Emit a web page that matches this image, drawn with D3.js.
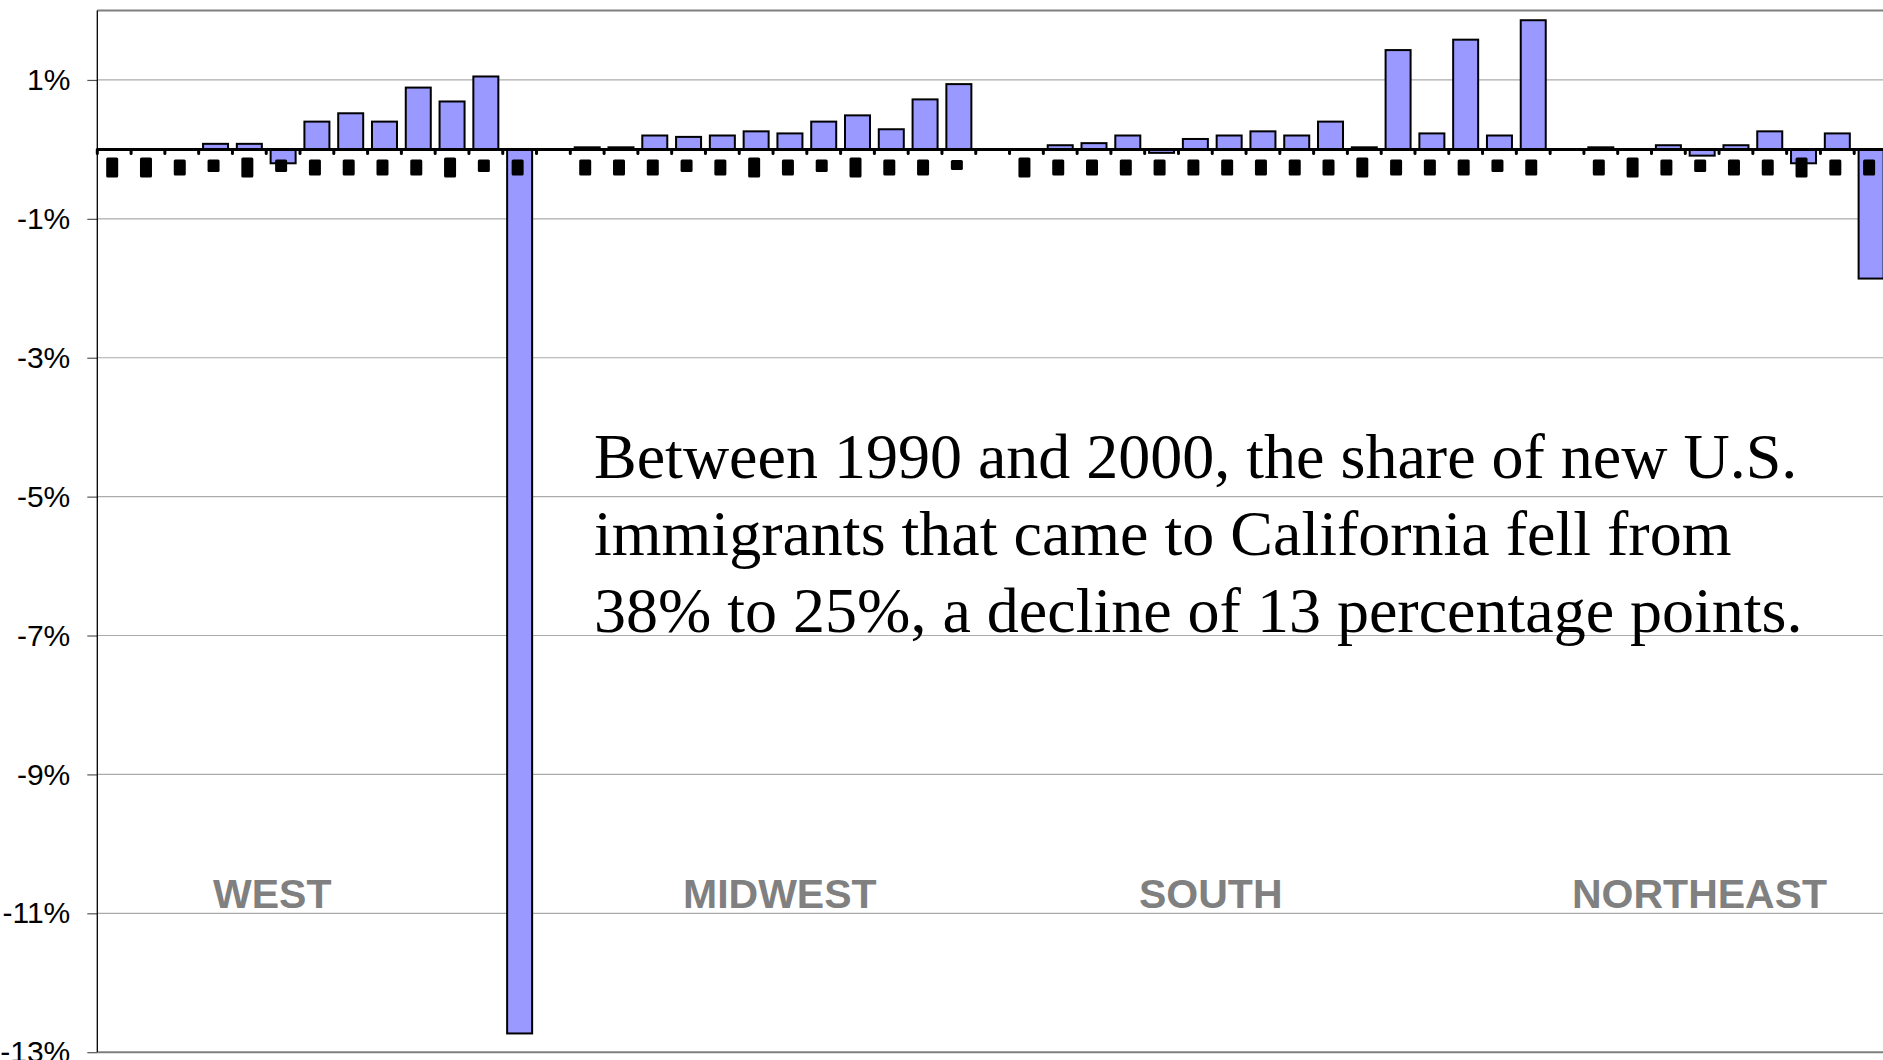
<!DOCTYPE html>
<html>
<head>
<meta charset="utf-8">
<script src="https://cdn.jsdelivr.net/npm/d3@7"></script>
<style>
  body { margin: 0; background: #fff; }
  svg { display: block; }
  .tick text { font-family: "Liberation Sans", Arial, sans-serif; font-size: 30px; fill: #000; }
  .region { font-family: "Liberation Sans", Arial, sans-serif; font-weight: bold; font-size: 41px; fill: #808080; }
  .note { font-family: "Liberation Serif", "Times New Roman", serif; font-size: 64px; fill: #000; }
</style>
</head>
<body>
<svg id="chart"></svg>
<script>
// change in share of new U.S. immigrants by state, 1990 -> 2000 (percentage points)
var regions = ["WEST", "MIDWEST", "SOUTH", "NORTHEAST"];
var west = [0, 0, 0, 0.08, 0.08, -0.2, 0.4, 0.52, 0.4, 0.89, 0.69, 1.05, -12.73];
var midwest = [0.03, 0.03, 0.2, 0.18, 0.2, 0.26, 0.23, 0.4, 0.49, 0.29, 0.72, 0.94];
var south = [0, 0.06, 0.09, 0.2, -0.05, 0.15, 0.2, 0.26, 0.2, 0.4, 0.03, 1.43, 0.23, 1.58, 0.2, 1.86];
var northeast = [0.03, 0, 0.06, -0.09, 0.06, 0.26, -0.2, 0.23, -1.86];

// illegible state labels under the axis: ink size class of each one
var westInk = ["T", "T", "M", "S", "T", "S", "M", "M", "M", "M", "T", "S", "M"];
var midwestInk = ["M", "M", "M", "S", "M", "T", "M", "S", "T", "M", "M", "XS"];
var southInk = ["T", "M", "M", "M", "M", "M", "M", "M", "M", "M", "T", "M", "M", "M", "S", "M"];
var northeastInk = ["M", "T", "M", "S", "M", "M", "T", "M", "M"];

var yTicks = [1, -1, -3, -5, -7, -9, -11, -13];
var note = [
  "Between 1990 and 2000, the share of new U.S.",
  "immigrants that came to California fell from",
  "38% to 25%, a decline of 13 percentage points."
];

var W = 1883, H = 1060;
var margin = {top: 10.5, left: 97.3},
    plotRight = 1888,
    plotBottom = 1052.2;

var series = [west, midwest, south, northeast];
var inks = [westInk, midwestInk, southInk, northeastInk];

// flat list of slots, one empty slot between regions
var slots = [];
series.forEach(function(vals, r) {
  vals.forEach(function(v, i) {
    slots.push({region: r, value: v, ink: inks[r][i]});
  });
  if (r < series.length - 1) slots.push(null);
});
slots.forEach(function(d, i) { if (d) d.idx = i; });
var states = slots.filter(function(d) { return d; });

var x = d3.scaleBand()
    .domain(d3.range(slots.length))
    .range([margin.left, plotRight])
    .paddingInner(0.26)
    .paddingOuter(0.13);

var y = d3.scaleLinear()
    .domain([2, -13])
    .range([margin.top, plotBottom]);

var svg = d3.select("#chart")
    .attr("width", W)
    .attr("height", H);

// gridlines
svg.append("g")
  .selectAll("line")
  .data(yTicks.slice(0, -1))
  .enter().append("line")
    .attr("x1", margin.left).attr("x2", plotRight)
    .attr("y1", function(d) { return y(d); })
    .attr("y2", function(d) { return y(d); })
    .attr("stroke", "#ababab")
    .attr("stroke-width", 1.2);

// frame: top and bottom
svg.append("line")
    .attr("x1", margin.left).attr("x2", plotRight)
    .attr("y1", y(2)).attr("y2", y(2))
    .attr("stroke", "#7f7f7f").attr("stroke-width", 2);
svg.append("line")
    .attr("x1", margin.left).attr("x2", plotRight)
    .attr("y1", y(-13)).attr("y2", y(-13))
    .attr("stroke", "#7f7f7f").attr("stroke-width", 2);

// annotation
svg.append("text")
    .attr("class", "note")
    .selectAll("tspan")
    .data(note)
    .enter().append("tspan")
    .attr("x", 594)
    .attr("y", function(d, i) { return 478.3 + i * 76.7; })
    .text(function(d) { return d; });

// region names
var regionX = [213, 683, 1139, 1572];
svg.append("g")
  .selectAll("text")
  .data(regions)
  .enter().append("text")
    .attr("class", "region")
    .attr("x", function(d, i) { return regionX[i]; })
    .attr("y", 908)
    .text(function(d) { return d; });

// bars
svg.append("g")
  .selectAll("rect")
  .data(states)
  .enter().append("rect")
    .attr("x", function(d) { return x(d.idx); })
    .attr("width", x.bandwidth())
    .attr("y", function(d) { return y(Math.max(0, d.value)); })
    .attr("height", function(d) { return Math.abs(y(d.value) - y(0)); })
    .attr("fill", "#9999ff")
    .attr("stroke", "#000")
    .attr("stroke-width", 2);

// zero line with tick dots between slots
var zeroY = y(0);
svg.append("line")
    .attr("x1", margin.left).attr("x2", plotRight)
    .attr("y1", zeroY).attr("y2", zeroY)
    .attr("stroke", "#000").attr("stroke-width", 3);
svg.append("g")
  .selectAll("line")
  .data(d3.range(slots.length + 1))
  .enter().append("line")
    .attr("x1", function(k) { return margin.left + k * x.step(); })
    .attr("x2", function(k) { return margin.left + k * x.step(); })
    .attr("y1", zeroY).attr("y2", zeroY + 4)
    .attr("stroke", "#000")
    .attr("stroke-width", 3)
    .attr("stroke-linecap", "round");

// blotted category labels
var inkBox = {T: [8, 28], M: [10, 26], S: [10, 22.5], XS: [10.5, 20.5]};
svg.append("g")
  .selectAll("rect")
  .data(states)
  .enter().append("rect")
    .attr("x", function(d) { return x(d.idx) + x.bandwidth() / 2 - 8; })
    .attr("width", 12)
    .attr("y", function(d) { return zeroY + inkBox[d.ink][0]; })
    .attr("height", function(d) { return inkBox[d.ink][1] - inkBox[d.ink][0]; })
    .attr("rx", 1.5)
    .attr("fill", "#000");

// y axis
var yAxis = svg.append("g")
    .attr("transform", "translate(" + margin.left + ",0)")
    .call(d3.axisLeft(y)
      .tickValues(yTicks)
      .tickSize(10)
      .tickPadding(17)
      .tickFormat(function(d) { return d + "%"; }));
yAxis.select(".domain").remove();
yAxis.selectAll(".tick line").attr("stroke", "#555").attr("stroke-width", 1.2);
yAxis.selectAll(".tick text").attr("font-size", null).attr("font-family", null);
svg.append("line")
    .attr("x1", margin.left).attr("x2", margin.left)
    .attr("y1", y(2)).attr("y2", y(-13))
    .attr("stroke", "#000").attr("stroke-width", 1.3);
</script>
</body>
</html>
